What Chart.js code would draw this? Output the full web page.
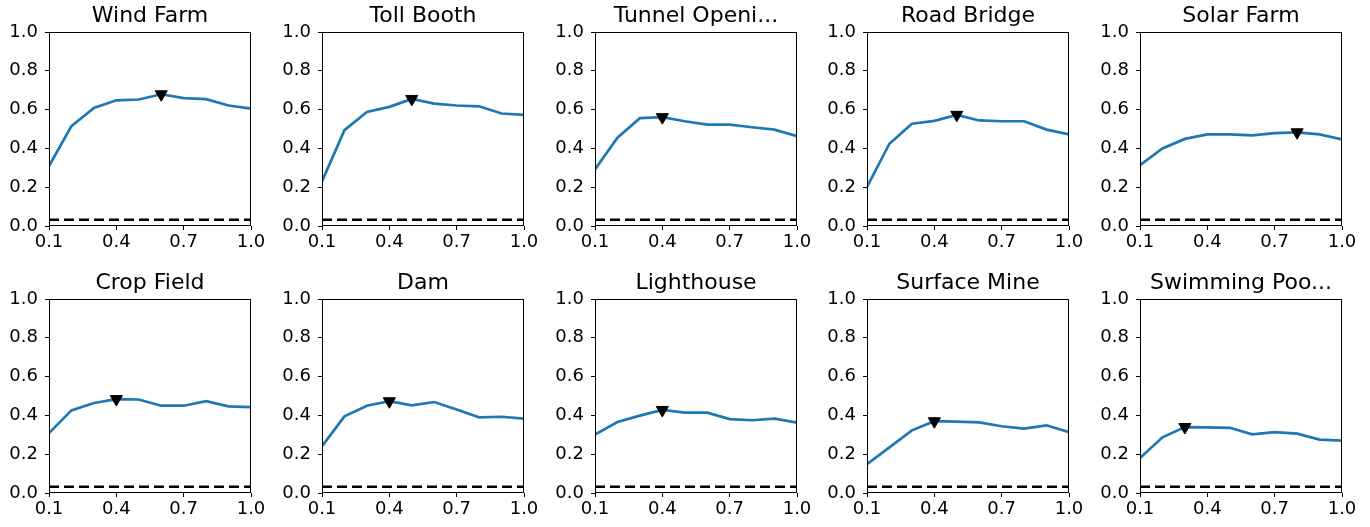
<!DOCTYPE html>
<html>
<head>
<meta charset="utf-8">
<script src="https://cdn.jsdelivr.net/npm/chart.js@4/dist/chart.umd.min.js"></script>
<style>
  html, body { margin: 0; padding: 0; background: #fff; }
  #wrap { position: relative; width: 1370px; height: 527px; overflow: hidden; }
  #wrap canvas { position: absolute; }
</style>
</head>
<body>
<div id="wrap"></div>
<script>
// shared x positions and tick labels
const xValues = [0.1, 0.2, 0.3, 0.4, 0.5, 0.6, 0.7, 0.8, 0.9, 1.0];
const xTicks = [0.1, 0.4, 0.7, 1.0];
const yTicks = [0.0, 0.2, 0.4, 0.6, 0.8, 1.0];
const chanceLevel = 0.032;

const titles = ["Wind Farm", "Toll Booth", "Tunnel Openi...", "Road Bridge", "Solar Farm",
  "Crop Field", "Dam", "Lighthouse", "Surface Mine", "Swimming Poo..."];

const windFarm    = [0.309, 0.515, 0.609, 0.648, 0.652, 0.679, 0.659, 0.654, 0.621, 0.605];
const tollBooth   = [0.230, 0.494, 0.588, 0.614, 0.655, 0.631, 0.621, 0.617, 0.580, 0.573];
const tunnel      = [0.292, 0.455, 0.556, 0.561, 0.540, 0.523, 0.523, 0.509, 0.497, 0.463];
const roadBridge  = [0.202, 0.424, 0.527, 0.542, 0.573, 0.544, 0.540, 0.540, 0.497, 0.472];
const solarFarm   = [0.314, 0.400, 0.449, 0.472, 0.472, 0.467, 0.479, 0.483, 0.472, 0.446];
const cropField   = [0.309, 0.426, 0.464, 0.484, 0.482, 0.450, 0.450, 0.473, 0.447, 0.443];
const dam         = [0.241, 0.395, 0.450, 0.473, 0.452, 0.469, 0.430, 0.390, 0.393, 0.383];
const lighthouse  = [0.301, 0.366, 0.399, 0.428, 0.414, 0.414, 0.381, 0.375, 0.383, 0.363];
const surfaceMine = [0.149, 0.235, 0.323, 0.370, 0.368, 0.364, 0.344, 0.332, 0.349, 0.314];
const swimming    = [0.180, 0.287, 0.340, 0.338, 0.336, 0.302, 0.314, 0.306, 0.275, 0.270];

const series = [windFarm, tollBooth, tunnel, roadBridge, solarFarm,
  cropField, dam, lighthouse, surfaceMine, swimming];
// x position of the triangle marker in each panel
const peakX = [0.6, 0.5, 0.4, 0.5, 0.8, 0.4, 0.4, 0.4, 0.4, 0.3];

const FONT = "'DejaVu Sans', sans-serif";
Chart.defaults.color = "#000";
Chart.defaults.font.family = FONT;

// frame around the plot area, like the matplotlib spines
const framePlugin = {
  id: "frame",
  afterDraw(chart) {
    const a = chart.chartArea;
    const ctx = chart.ctx;
    ctx.save();
    ctx.strokeStyle = "#000";
    ctx.lineWidth = 1;
    ctx.strokeRect(Math.round(a.left) + 0.5, Math.round(a.top) + 0.5,
      Math.round(a.right - a.left) - 1, Math.round(a.bottom - a.top) - 1);
    ctx.restore();
  }
};

const wrap = document.getElementById("wrap");
const plotLeft0 = 48.7;
const colStep = 272.9;
const rowTops = [0, 267];

series.forEach((vals, i) => {
  const col = i % 5, row = Math.floor(i / 5);
  const canvas = document.createElement("canvas");
  canvas.width = 268;
  canvas.height = 260;
  canvas.style.left = Math.round(plotLeft0 + col * colStep - 48) + "px";
  canvas.style.top = rowTops[row] + "px";
  wrap.appendChild(canvas);

  const points = xValues.map((x, k) => ({ x: x, y: vals[k] }));
  const peakIdx = xValues.findIndex(x => Math.abs(x - peakX[i]) < 1e-6);

  new Chart(canvas, {
    type: "line",
    data: {
      datasets: [
        {
          data: [{ x: peakX[i], y: vals[peakIdx] }],
          showLine: false,
          pointStyle: "triangle",
          rotation: 180,
          pointRadius: 7,
          backgroundColor: "#000",
          borderColor: "#000",
          borderWidth: 1
        },
        {
          data: points,
          borderColor: "#1f77b4",
          borderWidth: 2.7,
          pointRadius: 0,
          tension: 0
        },
        {
          data: [{ x: xValues[0], y: chanceLevel }, { x: xValues[xValues.length - 1], y: chanceLevel }],
          borderColor: "#000",
          borderWidth: 2.5,
          borderDash: [10, 5],
          pointRadius: 0
        }
      ]
    },
    options: {
      responsive: false,
      animation: false,
      devicePixelRatio: 1,
      layout: { padding: { left: 0, right: 18, top: 0, bottom: 0 } },
      plugins: {
        legend: { display: false },
        tooltip: { enabled: false },
        title: {
          display: true,
          text: titles[i],
          fullSize: false,
          color: "#000",
          font: { family: FONT, size: 22, weight: "normal", lineHeight: 1.2 },
          padding: { top: 3, bottom: 2.6 }
        }
      },
      scales: {
        x: {
          type: "linear",
          min: 0.1,
          max: 1.0,
          border: { display: false },
          grid: { display: true, drawOnChartArea: false, drawTicks: true, tickLength: 4, color: "#000" },
          ticks: {
            padding: 2,
            maxRotation: 0,
            autoSkip: false,
            font: { family: FONT, size: 18 },
            callback: v => Number(v).toFixed(1)
          },
          afterBuildTicks: s => { s.ticks = xTicks.map(v => ({ value: v })); },
          afterFit: s => { s.height = 34; s.paddingLeft = 0; s.paddingRight = 0; }
        },
        y: {
          min: 0,
          max: 1,
          border: { display: false },
          grid: { display: true, drawOnChartArea: false, drawTicks: true, tickLength: 4, color: "#000" },
          ticks: {
            padding: 7,
            font: { family: FONT, size: 18 },
            callback: v => Number(v).toFixed(1)
          },
          afterBuildTicks: s => { s.ticks = yTicks.map(v => ({ value: v })); },
          afterFit: s => { s.width = 48; s.paddingTop = 0; s.paddingBottom = 0; }
        }
      }
    },
    plugins: [framePlugin]
  });
});
</script>
</body>
</html>
